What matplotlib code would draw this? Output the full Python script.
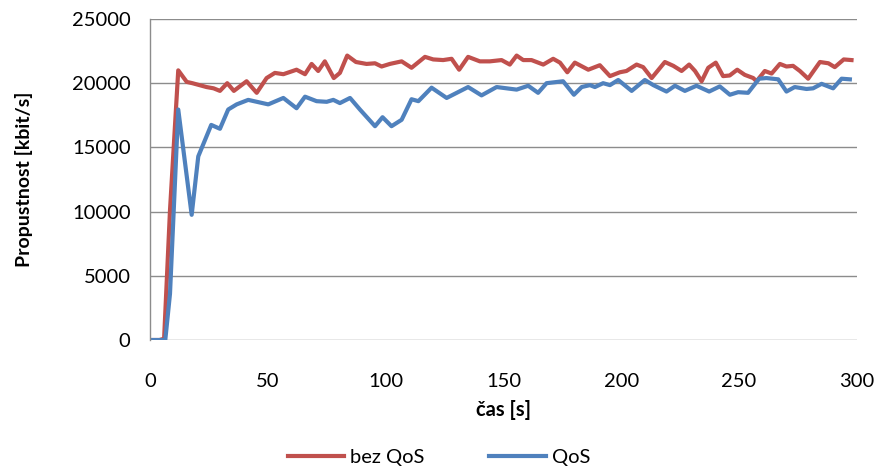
import matplotlib
matplotlib.use("Agg")
import matplotlib.pyplot as plt

# data
t_bez = [0, 2, 4, 6, 8.5, 12, 15.6, 18, 24, 27, 29.7, 32.8, 35.6, 41, 45.3, 49.5, 53, 56.6,
         62.2, 65.8, 68.6, 71.4, 74.2, 78, 80.6, 83.7, 87.4, 91.9, 95.5, 98.3, 101.8, 106.8,
         111, 116.7, 120.2, 124.4, 128, 131.2, 135, 140, 144.2, 149.2, 152.7, 155.6, 158.4,
         161.9, 166.9, 171.1, 174, 177.1, 180.3, 186, 190.9, 195.2, 199.4, 202.2, 206.5,
         209.3, 212.9, 218.5, 222.1, 225.6, 228.8, 231.3, 234.1, 236.9, 240.1, 243.2, 246,
         249.2, 252.4, 256, 257.4, 260.9, 263.8, 267.3, 270.1, 272.9, 275.8, 279.3, 284.3,
         287.9, 290.6, 294.4, 297.7]
v_bez = [0, 0, 0, 100, 10100, 21000, 20100, 20000, 19700, 19600, 19400, 20000, 19400, 20150,
         19250, 20400, 20800, 20700, 21050, 20700, 21500, 20950, 21700, 20400, 20800, 22150,
         21650, 21500, 21550, 21300, 21500, 21700, 21200, 22050, 21850, 21800, 21900, 21050,
         22050, 21700, 21700, 21800, 21450, 22150, 21800, 21800, 21450, 21900, 21600, 20850,
         21600, 21050, 21400, 20550, 20850, 20950, 21450, 21250, 20400, 21650, 21350, 20950,
         21450, 20950, 20150, 21200, 21600, 20550, 20600, 21050, 20650, 20400, 20150, 20950,
         20750, 21500, 21300, 21350, 20950, 20350, 21650, 21550, 21250, 21850, 21800]

t_qos = [0, 2, 4, 6.5, 8.5, 12, 17.7, 20.5, 26, 29.7, 33.2, 36.8, 41.7, 50.2, 56.6, 62.2,
         65.8, 70.7, 75, 77.8, 80.6, 84.9, 89.1, 95.5, 98.7, 102.5, 106.8, 111, 113.9,
         119.5, 125.9, 135, 140.7, 147.1, 155.6, 160.5, 164.7, 168.3, 175.3, 179.9, 183.2,
         186.7, 188.8, 192.3, 195.2, 198.7, 204.4, 210, 213.6, 219.2, 222.8, 227, 231.9,
         237.3, 241.8, 246.1, 249.6, 253.8, 258.5, 261.6, 266.6, 270.1, 273.6, 278.6, 281.4,
         285, 289.9, 293.5, 297]
v_qos = [0, 0, 0, 0, 3600, 17950, 9750, 14300, 16750, 16450, 17950, 18350, 18700, 18350,
         18850, 18050, 18950, 18600, 18550, 18700, 18450, 18850, 17950, 16650, 17350, 16650,
         17150, 18750, 18600, 19650, 18850, 19700, 19050, 19700, 19500, 19800, 19250, 20000,
         20150, 19100, 19700, 19850, 19700, 20000, 19850, 20250, 19400, 20250, 19850, 19350,
         19800, 19400, 19800, 19350, 19750, 19100, 19300, 19250, 20350, 20400, 20300, 19350,
         19700, 19550, 19600, 19950, 19600, 20350, 20300]

x_ticks = [0, 50, 100, 150, 200, 250, 300]
y_ticks = [0, 5000, 10000, 15000, 20000, 25000]

plt.rcParams['font.family'] = ['Lato', 'DejaVu Sans']

fig = plt.figure(figsize=(8.78, 4.71), dpi=100)
ax = fig.add_axes([0.1708, 0.2781, 0.8052, 0.6816])

ax.plot(t_bez, v_bez, color='#C0504D', linewidth=3, label='bez QoS', solid_joinstyle='round')
ax.plot(t_qos, v_qos, color='#4F81BD', linewidth=3, label='QoS', solid_joinstyle='round')

ax.set_xlim(0, 300)
ax.set_ylim(0, 25000)
ax.set_xticks(x_ticks)
ax.set_yticks(y_ticks)
ax.tick_params(axis='both', length=0, labelsize=14.5, colors='black')
ax.tick_params(axis='x', pad=24)
ax.tick_params(axis='y', pad=14)

ax.grid(axis='y', color='#8c8c8c', linewidth=1)
ax.set_axisbelow(True)
for s in ['top', 'right', 'bottom']:
    ax.spines[s].set_visible(False)
ax.spines['left'].set_color('#8c8c8c')
ax.spines['left'].set_linewidth(1)

ax.set_xlabel('čas [s]', fontsize=14.5, fontweight='bold', labelpad=7)
ax.set_ylabel('Propustnost [kbit/s]', fontsize=14, fontweight='bold', labelpad=28)

fig.legend(loc='center', bbox_to_anchor=(0.5, 0.028), ncol=2, frameon=False,
           fontsize=14.5, handlelength=2.8, handletextpad=0.3, columnspacing=3.2)

fig.savefig('out.png', dpi=100)
